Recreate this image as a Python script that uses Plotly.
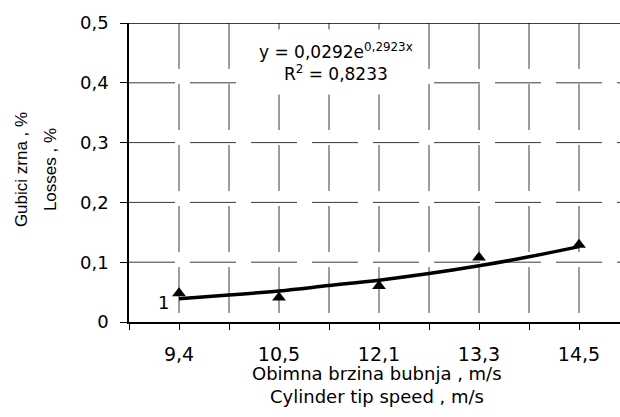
import plotly.graph_objects as go

# ---- data ----
categories = ["9,4", "10,5", "12,1", "13,3", "14,5"]
cat_pos = [1, 2, 3, 4, 5]
losses = [0.048, 0.041, 0.060, 0.108, 0.129]

trend_x = [1, 1.5, 2, 2.5, 3, 3.5, 4, 4.5, 5]
trend_y = [0.039, 0.045, 0.052, 0.061, 0.070, 0.081, 0.094, 0.109, 0.126]

y_tick_vals = [0, 0.1, 0.2, 0.3, 0.4, 0.5]
y_tick_labels = ["0", "0,1", "0,2", "0,3", "0,4", "0,5"]

x_title_lines = ["Obimna brzina bubnja , m/s", "Cylinder tip speed , m/s"]
y_title_lines = ["Gubici zrna , %", "Losses , %"]
equation_text = "y = 0,0292e<sup>0,2923x</sup><br>R<sup>2</sup> = 0,8233"
series_label = "1"

# category boundaries (minor ticks)
boundaries = [p - 0.5 for p in cat_pos] + [cat_pos[-1] + 0.5]

FONT_H = "DejaVu Sans"
FONT_V = "Liberation Sans"
GRID = "#3a3a3a"
GDASH = "46px,15px"
X_RANGE = [0.5, 5.41]
Y_RANGE = [0, 0.5]

fig = go.Figure()

# dashed grid drawn on the axis scales (dash starts at left / top edge)
for yv in y_tick_vals[1:-1]:
    fig.add_shape(type="line", layer="below", xref="paper", yref="y",
                  x0=0, x1=1, y0=yv, y1=yv,
                  line=dict(color=GRID, width=1, dash=GDASH))
for xv in sorted(cat_pos + boundaries):
    if X_RANGE[0] < xv < X_RANGE[1]:
        fig.add_shape(type="line", layer="below", xref="x", yref="y",
                      x0=xv, x1=xv, y0=Y_RANGE[1], y1=Y_RANGE[0],
                      line=dict(color=GRID, width=1, dash=GDASH))

fig.add_trace(go.Scatter(
    x=trend_x, y=trend_y, mode="lines",
    line=dict(color="black", width=3.5, shape="spline"),
    hoverinfo="skip", showlegend=False,
))
fig.add_trace(go.Scatter(
    x=cat_pos, y=losses, mode="markers",
    marker=dict(symbol="triangle-up", size=12, color="black"),
    showlegend=False,
))

fig.update_layout(
    width=620, height=417,
    margin=dict(l=129, r=0, t=23, b=95),
    paper_bgcolor="white", plot_bgcolor="white",
    font=dict(family=FONT_H, size=18, color="black"),
    showlegend=False,
)

fig.update_xaxes(
    range=X_RANGE,
    tickmode="array", tickvals=cat_pos, ticktext=categories,
    ticks="outside", ticklen=6, tickcolor="black", tickwidth=1,
    showline=True, linecolor="black", linewidth=2,
    showgrid=False,
    minor=dict(tickmode="array", tickvals=boundaries, ticks="outside",
               ticklen=6, tickcolor="black", tickwidth=1, showgrid=False),
    zeroline=False, ticklabelstandoff=8,
    tickfont=dict(family=FONT_H, size=19),
)
fig.update_yaxes(
    range=Y_RANGE,
    tickmode="array", tickvals=y_tick_vals, ticktext=y_tick_labels,
    ticks="outside", ticklen=7, tickcolor="black", tickwidth=1,
    showline=True, linecolor="black", linewidth=1.5,
    showgrid=False,
    zeroline=False, ticklabelstandoff=8,
    tickfont=dict(family=FONT_H, size=18),
)

# top border
fig.add_shape(type="line", xref="paper", yref="y", x0=0, x1=1, y0=0.5, y1=0.5,
              line=dict(color="black", width=1.5))

# equation box
fig.add_annotation(
    x=2.57, y=0.435, xref="x", yref="y", text=equation_text,
    showarrow=False, bgcolor="white", borderpad=10,
    font=dict(family=FONT_H, size=17, color="black"),
)
# series label
fig.add_annotation(
    x=0.84, y=0.0334, xref="x", yref="y", text=series_label,
    showarrow=False, font=dict(family=FONT_H, size=18, color="black"),
)
# x title lines (pixel centres converted to paper coords)
for txt, py in zip(x_title_lines, [373, 396]):
    fig.add_annotation(
        x=0.506, y=(322 - py) / 299, xref="paper", yref="paper", text=txt,
        showarrow=False, xanchor="center", yanchor="middle", borderpad=0,
        font=dict(family=FONT_H, size=18, color="black"),
    )
# y title lines (rotated)
for txt, px in zip(y_title_lines, [21, 50]):
    fig.add_annotation(
        x=(px - 129) / 491, y=0.508, xref="paper", yref="paper", text=txt,
        showarrow=False, textangle=-90, xanchor="center", yanchor="middle",
        borderpad=0,
        font=dict(family=FONT_V, size=17, color="black"),
    )

fig.write_html("out.html")
